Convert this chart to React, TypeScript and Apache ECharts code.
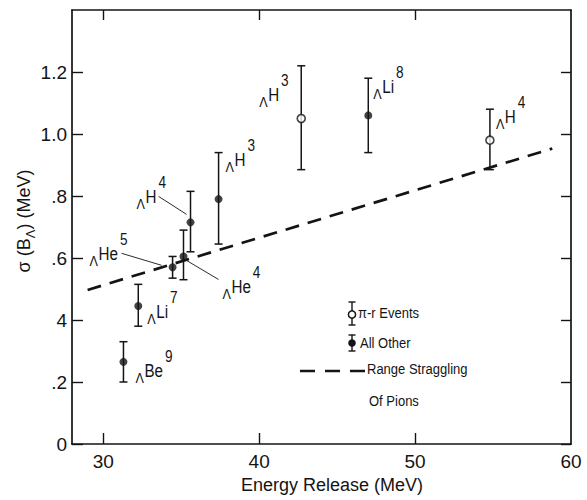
import { useEffect, useRef } from "react";
import * as echarts from "echarts";

// Hypernucleus identification for each measured point
const elementSymbols = ["Be", "Li", "He", "He", "H", "H", "H", "Li", "H"];
const massNumbers = ["9", "7", "5", "4", "4", "3", "3", "8", "4"];
// Energy release (MeV) and spread of binding energy sigma(B_Lambda) (MeV)
const energyRelease = [31.3, 32.25, 34.45, 35.15, 35.6, 37.4, 42.7, 47.0, 54.8];
const sigmaB = [0.265, 0.445, 0.57, 0.605, 0.715, 0.79, 1.05, 1.06, 0.98];
const sigmaLow = [0.2, 0.38, 0.535, 0.53, 0.62, 0.645, 0.885, 0.94, 0.885];
const sigmaHigh = [0.33, 0.515, 0.605, 0.69, 0.815, 0.94, 1.22, 1.18, 1.08];
const isPiREvent = [false, false, false, false, false, false, true, false, true];
// Range straggling of pions (dashed line)
const stragglingEnergy = [29.0, 58.8];
const stragglingSigma = [0.497, 0.953];
// Axis ticks and labels
const xTickValues = [30, 40, 50];
const xLabelValues = [30, 40, 50, 60];
const yTickValues = [0, 0.2, 0.4, 0.6, 0.8, 1.0, 1.2];
const yTickLabels = ["0", ".2", "4", ".6", ".8", "1.0", "1.2"];
const legendTexts = ["π-r Events", "All Other", "Range Straggling", "Of Pions"];

// Label placement (pixels, Lambda baseline-left relative to the point)
const labelOffsets: [number, number][] = [
  [12, 21],
  [9, 18],
  [-83, -1],
  [39, 43],
  [-54, -13],
  [7, -27],
  [-42, -11],
  [5, -16],
  [6, -11],
];
// Leader lines: point index, start offset, end offset
const leaderLines: [number, [number, number], [number, number]][] = [
  [4, [-32, -26], [-4, -8]],
  [2, [-51, -14], [-11, -2]],
  [3, [3, 4], [35, 23]],
];

const INK = "#141414";
const FONT = "'Liberation Sans', Arial, sans-serif";

export default function App() {
  const ref = useRef<HTMLDivElement>(null);

  useEffect(() => {
    const el = ref.current!;
    const chart = echarts.init(el, null, { renderer: "svg" });

    const errorData = energyRelease.map((x, i) => [x, sigmaLow[i], sigmaHigh[i]]);
    const openData = energyRelease
      .map((x, i) => (isPiREvent[i] ? [x, sigmaB[i]] : null))
      .filter((d) => d !== null);
    const filledData = energyRelease
      .map((x, i) => (!isPiREvent[i] ? [x, sigmaB[i]] : null))
      .filter((d) => d !== null);

    const axisLine = { show: true, onZero: false, lineStyle: { color: INK, width: 1.7 } };
    const tickStyle = { color: INK, width: 1.4 };

    chart.setOption({
      animation: false,
      backgroundColor: "#ffffff",
      textStyle: { fontFamily: FONT, color: INK },
      grid: { left: 72, right: 16, top: 10, bottom: 56 },
      xAxis: [
        {
          type: "value",
          min: 28,
          max: 60,
          position: "bottom",
          axisLine,
          axisTick: { show: true, inside: true, length: 11, customValues: xTickValues, lineStyle: tickStyle },
          axisLabel: { customValues: xLabelValues, fontSize: 19, color: INK, margin: 8, fontFamily: FONT },
          splitLine: { show: false },
          name: "Energy Release (MeV)",
          nameLocation: "middle",
          nameGap: 31,
          nameTextStyle: { fontSize: 18, color: INK, fontFamily: FONT, padding: [0, 0, 0, 21] },
        },
        {
          type: "value",
          min: 28,
          max: 60,
          position: "top",
          axisLine,
          axisTick: { show: true, inside: true, length: 10, customValues: xTickValues, lineStyle: tickStyle },
          axisLabel: { show: false },
          splitLine: { show: false },
        },
      ],
      yAxis: [
        {
          type: "value",
          min: 0,
          max: 1.4,
          position: "left",
          axisLine,
          axisTick: { show: true, inside: true, length: 11, customValues: yTickValues, lineStyle: tickStyle },
          axisLabel: {
            customValues: yTickValues,
            fontSize: 19,
            color: INK,
            margin: 5,
            fontFamily: FONT,
            formatter: (v: number) => {
              const i = yTickValues.findIndex((t) => Math.abs(t - v) < 1e-6);
              return i >= 0 ? yTickLabels[i] : "";
            },
          },
          splitLine: { show: false },
        },
        {
          type: "value",
          min: 0,
          max: 1.4,
          position: "right",
          axisLine,
          axisTick: { show: true, inside: true, length: 10, customValues: yTickValues, lineStyle: tickStyle },
          axisLabel: { show: false },
          splitLine: { show: false },
        },
      ],
      series: [
        {
          type: "line",
          data: stragglingEnergy.map((x, i) => [x, stragglingSigma[i]]),
          symbol: "none",
          lineStyle: { color: INK, width: 2.7, type: [14, 9] },
          z: 2,
        },
        {
          type: "custom",
          data: errorData,
          encode: { x: 0, y: [1, 2] },
          z: 3,
          renderItem: (_params: any, api: any) => {
            const x = api.value(0);
            const top = api.coord([x, api.value(2)]);
            const bot = api.coord([x, api.value(1)]);
            const cap = 4;
            const style = { stroke: INK, lineWidth: 1.5 };
            return {
              type: "group",
              children: [
                { type: "line", shape: { x1: top[0], y1: top[1], x2: bot[0], y2: bot[1] }, style },
                { type: "line", shape: { x1: top[0] - cap, y1: top[1], x2: top[0] + cap, y2: top[1] }, style },
                { type: "line", shape: { x1: bot[0] - cap, y1: bot[1], x2: bot[0] + cap, y2: bot[1] }, style },
              ],
            };
          },
        },
        {
          type: "scatter",
          data: openData,
          symbol: "circle",
          symbolSize: 8,
          itemStyle: { color: "#ffffff", borderColor: INK, borderWidth: 1.6 },
          z: 4,
        },
        {
          type: "scatter",
          data: filledData,
          symbol: "circle",
          symbolSize: 8,
          itemStyle: { color: INK },
          z: 4,
        },
      ],
    });

    const ctx = document.createElement("canvas").getContext("2d")!;
    const measure = (t: string, size: number) => {
      ctx.font = `${size}px ${FONT}`;
      return ctx.measureText(t).width;
    };

    // Narrow lettering: horizontally compressed text anchored at its left edge
    const narrowText = (t: string, x: number, y: number, size: number, sx: number) => ({
      type: "text",
      x,
      y,
      scaleX: sx,
      style: { text: t, font: `${size}px ${FONT}`, fill: INK, align: "left", verticalAlign: "middle" },
    });

    const graphics: any[] = [];

    // Hypernucleus labels: small Lambda, element, superscript mass number
    const lamSize = 14;
    const lamSx = 0.9;
    const elSize = 19;
    const elSx = 0.8;
    const supSize = 16;
    const supSx = 0.85;
    energyRelease.forEach((x, i) => {
      const [px, py] = chart.convertToPixel({ seriesIndex: 2 }, [x, sigmaB[i]]) as number[];
      const [dx, dy] = labelOffsets[i];
      const x0 = px + dx;
      const b = py + dy;
      const wL = measure("Λ", lamSize) * lamSx;
      const wE = measure(elementSymbols[i], elSize) * elSx;
      graphics.push(
        narrowText("Λ", x0, b - 0.35 * lamSize, lamSize, lamSx),
        narrowText(elementSymbols[i], x0 + wL + 0.5, b - 6 - 0.35 * elSize, elSize, elSx),
        narrowText(massNumbers[i], x0 + wL + 0.5 + wE + 2, b - 21 - 0.35 * supSize, supSize, supSx)
      );
    });

    leaderLines.forEach(([i, from, to]) => {
      const [px, py] = chart.convertToPixel({ seriesIndex: 2 }, [energyRelease[i], sigmaB[i]]) as number[];
      graphics.push({
        type: "line",
        shape: { x1: px + from[0], y1: py + from[1], x2: px + to[0], y2: py + to[1] },
        style: { stroke: INK, lineWidth: 0.9 },
      });
    });

    // Y axis title with subscript Lambda
    const tSize = 18;
    const partA = "σ (B";
    const partB = "Λ";
    const partC = ") (MeV)";
    const wA = measure(partA, tSize);
    const wB = measure(partB, 13);
    const wC = measure(partC, tSize);
    const total = wA + wB + wC;
    graphics.push({
      type: "group",
      x: 24,
      y: 221,
      rotation: Math.PI / 2,
      children: [
        { type: "text", x: -total / 2, y: 0, style: { text: partA, font: `${tSize}px ${FONT}`, fill: INK, align: "left", verticalAlign: "middle" } },
        { type: "text", x: -total / 2 + wA, y: 6, style: { text: partB, font: `13px ${FONT}`, fill: INK, align: "left", verticalAlign: "middle" } },
        { type: "text", x: -total / 2 + wA + wB, y: 0, style: { text: partC, font: `${tSize}px ${FONT}`, fill: INK, align: "left", verticalAlign: "middle" } },
      ],
    });

    // Legend
    const legSize = 15.5;
    const legSx = 0.84;
    const barStyle = { stroke: INK, lineWidth: 1.4 };
    const lx = 352;
    graphics.push(
      { type: "line", shape: { x1: lx, y1: 302, x2: lx, y2: 325 }, style: barStyle },
      { type: "line", shape: { x1: lx - 3.5, y1: 302, x2: lx + 3.5, y2: 302 }, style: barStyle },
      { type: "line", shape: { x1: lx - 3.5, y1: 325, x2: lx + 3.5, y2: 325 }, style: barStyle },
      { type: "circle", shape: { cx: lx, cy: 314.5, r: 3.6 }, style: { fill: "#fff", stroke: INK, lineWidth: 1.5 } },
      narrowText(legendTexts[0], 358, 313, legSize, legSx),
      { type: "line", shape: { x1: lx, y1: 335, x2: lx, y2: 351 }, style: barStyle },
      { type: "line", shape: { x1: lx - 3.5, y1: 335, x2: lx + 3.5, y2: 335 }, style: barStyle },
      { type: "line", shape: { x1: lx - 3.5, y1: 351, x2: lx + 3.5, y2: 351 }, style: barStyle },
      { type: "circle", shape: { cx: lx, cy: 343, r: 3.8 }, style: { fill: INK } },
      narrowText(legendTexts[1], 360, 343, legSize, legSx),
      { type: "line", shape: { x1: 300, y1: 371, x2: 365, y2: 371 }, style: { stroke: INK, lineWidth: 2.7, lineDash: [15, 10] } },
      narrowText(legendTexts[2], 367, 369, legSize, legSx),
      narrowText(legendTexts[3], 369, 401, legSize, legSx)
    );

    chart.setOption({ graphic: graphics });

    return () => chart.dispose();
  }, []);

  return (
    <div
      ref={ref}
      style={{ position: "absolute", left: 0, top: 0, width: 587, height: 500, background: "#fff" }}
    />
  );
}
